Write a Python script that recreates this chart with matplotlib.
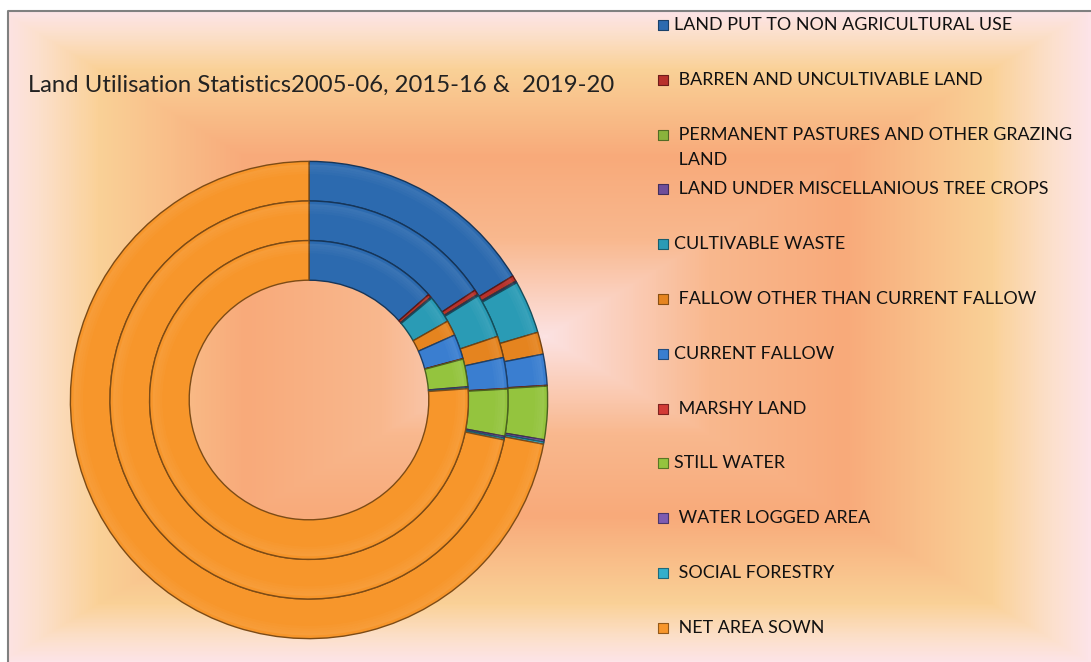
import numpy as np
import matplotlib
matplotlib.use("Agg")
import matplotlib.pyplot as plt
from matplotlib.colors import LinearSegmentedColormap, to_rgb

categories = ["LAND PUT TO NON AGRICULTURAL USE", " BARREN AND UNCULTIVABLE LAND",
              " PERMANENT PASTURES AND OTHER GRAZING\n LAND", " LAND UNDER MISCELLANIOUS TREE CROPS",
              "CULTIVABLE WASTE", " FALLOW OTHER THAN CURRENT FALLOW", "CURRENT FALLOW",
              " MARSHY LAND", "STILL WATER", " WATER LOGGED AREA", " SOCIAL FORESTRY",
              " NET AREA SOWN"]
y2005_06 = [13.5, 0.35, 0.02, 0.1, 2.8, 1.55, 2.5, 0.05, 2.8, 0.1, 0.1, 76.13]
y2015_16 = [15.7, 0.4, 0.02, 0.1, 3.6, 1.75, 2.5, 0.05, 3.8, 0.15, 0.15, 71.78]
y2019_20 = [16.3, 0.4, 0.02, 0.1, 3.6, 1.5, 2.1, 0.05, 3.6, 0.15, 0.15, 72.03]
series = [y2019_20, y2015_16, y2005_06]  # outer -> inner

colors = ['#2C6AAF', '#B8312C', '#8AB33C', '#6E4E9A', '#2A9BB5', '#E5841F',
          '#3A7ED0', '#D23B36', '#94C43E', '#7D5CB2', '#33AFCB', '#F7962B']

title = "Land Utilisation Statistics2005-06, 2015-16 &  2019-20"

W, H = 1091, 662
fig = plt.figure(figsize=(W / 100, H / 100), dpi=100)

# background: rectangular "from centre" gradient like the excel chart area
bg = fig.add_axes([0, 0, 1, 1], zorder=0)
bg.set_xlim(0, W)
bg.set_ylim(H, 0)
bg.axis("off")
xx, yy = np.meshgrid(np.arange(8, W), np.arange(11, H))
t = np.maximum(np.abs(xx - 545) / 545.0, np.abs(yy - 336) / 326.0)
cmap = LinearSegmentedColormap.from_list("bgfill", [
    (0.0, '#FCE2E2'), (0.3, '#F9B88E'), (0.55, '#F8AA7A'),
    (0.82, '#FAD197'), (0.93, '#FCE0CC'), (1.0, '#FDE4E8')])
bg.imshow(t, cmap=cmap, vmin=0, vmax=1, extent=(8, W, H, 11), aspect="auto")
bg.plot([8, 8, W], [H, 11, 11], color='#808080', lw=1.5)

# donut rings
ax = fig.add_axes([68 / W, 21 / H, 482 / W, 482 / H], zorder=1)
radii = [1.0, 201 / 241, 161 / 241]
ring_w = 40 / 241
for vals, r in zip(series, radii):
    wedges, _ = ax.pie(vals, radius=r, colors=colors, startangle=90, counterclock=False,
                       wedgeprops=dict(width=ring_w, linewidth=1.0))
    for w, c in zip(wedges, colors):
        w.set_edgecolor(tuple(0.5 * v for v in to_rgb(c)))
    # faint bevel: lighter rim along the outer edge
    for k in range(4):
        ax.pie([1], radius=r - ring_w * (0.08 + 0.06 * k), colors=['white'], startangle=90,
               wedgeprops=dict(width=ring_w * 0.06, linewidth=0, alpha=0.07 - 0.015 * k))
ax.set_xlim(-1.01, 1.01)
ax.set_ylim(-1.01, 1.01)
ax.axis("off")

fig.text(28 / W, 1 - 85 / H, title, fontsize=17.2, family="Lato", va="center",
         ha="left", color='#222222')

# legend
leg = fig.add_axes([0, 0, 1, 1], zorder=2)
leg.set_xlim(0, W)
leg.set_ylim(H, 0)
leg.axis("off")
for i, (lab, c) in enumerate(zip(categories, colors)):
    y = 25 + i * 54.8
    leg.scatter([663], [y], marker='s', s=62, color=c,
                edgecolors=tuple(0.6 * v for v in to_rgb(c)), linewidths=0.8)
    for j, line in enumerate(lab.split("\n")):
        leg.text(674, y + 25 * j, line, fontsize=12.9, family="Lato", va="center",
                 ha="left", color='#111111')

fig.savefig("out.png", dpi=100)
